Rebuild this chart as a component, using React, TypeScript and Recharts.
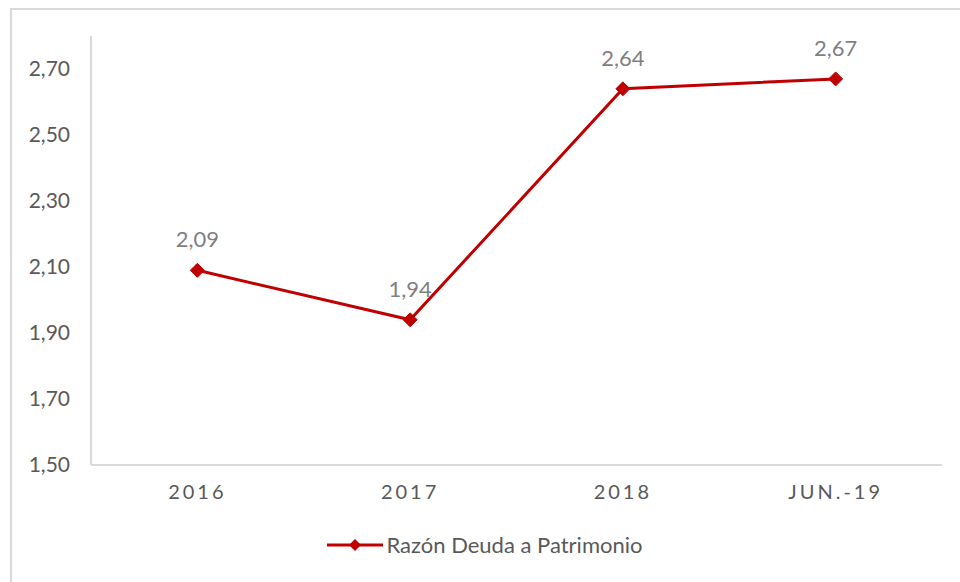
import React from "react"
import { LineChart, Line, XAxis, YAxis, Legend } from "recharts"

const periods = ["2016", "2017", "2018", "JUN.-19"]
const ratio = [2.09, 1.94, 2.64, 2.67]
const yTicks = [1.5, 1.7, 1.9, 2.1, 2.3, 2.5, 2.7]

const data = periods.map((p, i) => ({ period: p, ratio: ratio[i] }))

const RED = "#C00000"
const FONT = "Lato, 'Open Sans', sans-serif"
const fmt = (v: number) => v.toFixed(2).replace(".", ",")

function Diamond(props: any) {
  const { cx, cy, index } = props
  if (cx == null || cy == null) return null
  const r = 7
  return (
    <path
      key={`d-${index}`}
      d={`M${cx},${cy - r} L${cx + r},${cy} L${cx},${cy + r} L${cx - r},${cy} Z`}
      fill={RED}
      stroke={RED}
    />
  )
}

function LegendBox() {
  return (
    <div style={{ display: "flex", justifyContent: "center", alignItems: "center", fontFamily: FONT, paddingLeft: 28 }}>
      <svg width={56} height={16} style={{ marginRight: 3 }}>
        <line x1={0} y1={8} x2={56} y2={8} stroke={RED} strokeWidth={3} />
        <path d="M28,2 L34,8 L28,14 L22,8 Z" fill={RED} />
      </svg>
      <span style={{ fontSize: 22, color: "#595959" }}>Razón Deuda a Patrimonio</span>
    </div>
  )
}

export default function App() {
  return (
    <div style={{ position: "absolute", left: 0, top: 0, width: 960, height: 582, overflow: "hidden", background: "#fff" }}>
      <div
        style={{
          position: "absolute",
          left: 10,
          top: 8,
          width: 950,
          height: 574,
          boxSizing: "border-box",
          borderTop: "2px solid #d9d9d9",
          borderLeft: "2px solid #d9d9d9",
        }}
      />
      <div style={{ position: "absolute", left: 0, top: 0 }}>
        <LineChart width={960} height={582} data={data} margin={{ top: 36, right: 18, bottom: 0, left: 0 }}>
          <XAxis
            dataKey="period"
            scale="band"
            height={90}
            axisLine={{ stroke: "#d9d9d9", strokeWidth: 2 }}
            tickLine={false}
            tickSize={0}
            tickMargin={20}
            tick={{ fill: "#595959", fontSize: 20, fontFamily: FONT, letterSpacing: 3 }}
          />
          <YAxis
            width={91}
            domain={[1.5, 2.8]}
            ticks={yTicks}
            allowDataOverflow
            axisLine={{ stroke: "#d9d9d9", strokeWidth: 2 }}
            tickLine={false}
            tickSize={0}
            tickMargin={21}
            tickFormatter={fmt}
            tick={{ fill: "#595959", fontSize: 21, fontFamily: FONT }}
          />
          <Legend verticalAlign="bottom" wrapperStyle={{ bottom: 24 }} content={() => <LegendBox />} />
          <Line
            type="linear"
            dataKey="ratio"
            stroke={RED}
            strokeWidth={3}
            dot={Diamond}
            activeDot={false}
            isAnimationActive={false}
            label={{ position: "top", offset: 23, fill: "#7f7f7f", fontSize: 22, fontFamily: FONT, formatter: fmt }}
          />
        </LineChart>
      </div>
    </div>
  )
}
